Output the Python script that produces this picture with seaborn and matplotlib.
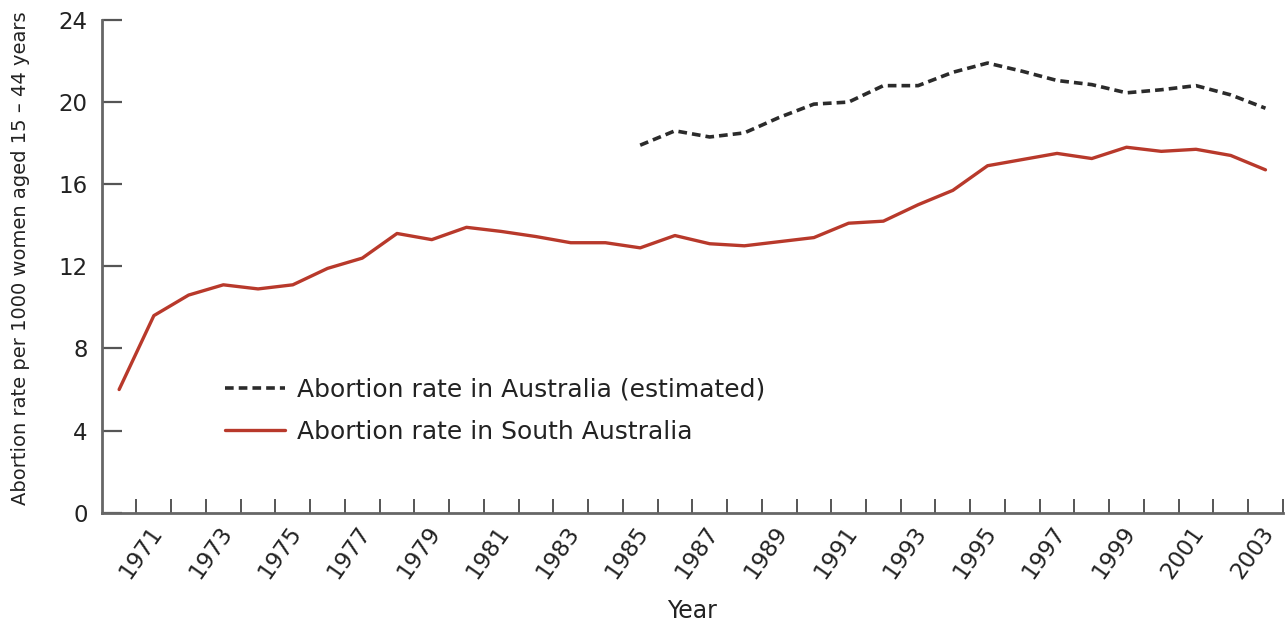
import numpy as np
import pandas as pd
import matplotlib
matplotlib.use('Agg')
import matplotlib.pyplot as plt
import matplotlib.transforms as mtransforms
import seaborn as sns

# financial years (ending year), plotted at the middle of the period
sa_years = list(range(1970, 2004))
sa_rate = [6.0, 9.6, 10.6, 11.1, 10.9, 11.1, 11.9, 12.4, 13.6, 13.3,
           13.9, 13.7, 13.45, 13.15, 13.15, 12.9, 13.5, 13.1, 13.0, 13.2,
           13.4, 14.1, 14.2, 15.0, 15.7, 16.9, 17.2, 17.5, 17.25, 17.8,
           17.6, 17.7, 17.4, 16.7]

aus_years = list(range(1985, 2004))
aus_rate = [17.9, 18.6, 18.3, 18.5, 19.25, 19.9, 20.0, 20.8, 20.8, 21.45,
            21.9, 21.5, 21.05, 20.85, 20.45, 20.6, 20.8, 20.35, 19.7]

tick_years = list(range(1970, 2004))
label_years = list(range(1971, 2004, 2))
y_ticks = [0, 4, 8, 12, 16, 20, 24]

sns.set_style('white')
plt.rcParams['font.family'] = ['DejaVu Sans']

df_sa = pd.DataFrame({'year': np.array(sa_years) - 0.5, 'rate': sa_rate})
df_aus = pd.DataFrame({'year': np.array(aus_years) - 0.5, 'rate': aus_rate})

fig = plt.figure(figsize=(12.88, 6.23), dpi=100)
ax = fig.add_axes([0.079, 0.177, 0.917, 0.791])

sns.lineplot(data=df_aus, x='year', y='rate', ax=ax, color='#2b2b2b',
             linewidth=2.6, label='Abortion rate in Australia (estimated)')
ax.lines[-1].set_dashes([2.4, 1.4])
sns.lineplot(data=df_sa, x='year', y='rate', ax=ax, color='#b8392b',
             linewidth=2.4, label='Abortion rate in South Australia')

ax.set_xlim(1969, 2003)
ax.set_ylim(0, 24)
ax.set_yticks(y_ticks)
ax.set_yticklabels([str(v) for v in y_ticks], fontsize=16.5, color='#222222')
ax.set_xticks(tick_years)
ax.set_xticklabels([])

# rotated year labels, nudged left of their tick as in the original
shift = mtransforms.ScaledTranslation(-23 / 100, -9 / 100, fig.dpi_scale_trans)
for y in label_years:
    ax.text(y, 0, str(y), transform=ax.get_xaxis_transform() + shift,
            rotation=55, ha='right', va='top', rotation_mode='anchor',
            fontsize=16.5, color='#222222', clip_on=False)

ax.tick_params(axis='y', left=True, direction='in', length=14.5, width=1.6,
               color='#555555', pad=10)
ax.tick_params(axis='x', bottom=True, direction='in', length=10, width=1.4,
               color='#555555', pad=6)

for side in ['top', 'right']:
    ax.spines[side].set_visible(False)
for side in ['left', 'bottom']:
    ax.spines[side].set_color('#666666')
    ax.spines[side].set_linewidth(2)

ax.set_xlabel('Year', fontsize=17, color='#222222')
ax.xaxis.set_label_coords(0.5, -0.175)
ax.set_ylabel('Abortion rate per 1000 women aged 15 \u2013 44 years', fontsize=14,
              color='#222222')
ax.yaxis.set_label_coords(-0.061, 0.517)

leg = ax.legend(loc='upper left', bbox_to_anchor=(0.085, 0.32), frameon=False,
                fontsize=18, handlelength=2.4, labelspacing=0.72, handletextpad=0.5)
for t in leg.get_texts():
    t.set_color('#222222')

fig.savefig('out.png', dpi=100)
